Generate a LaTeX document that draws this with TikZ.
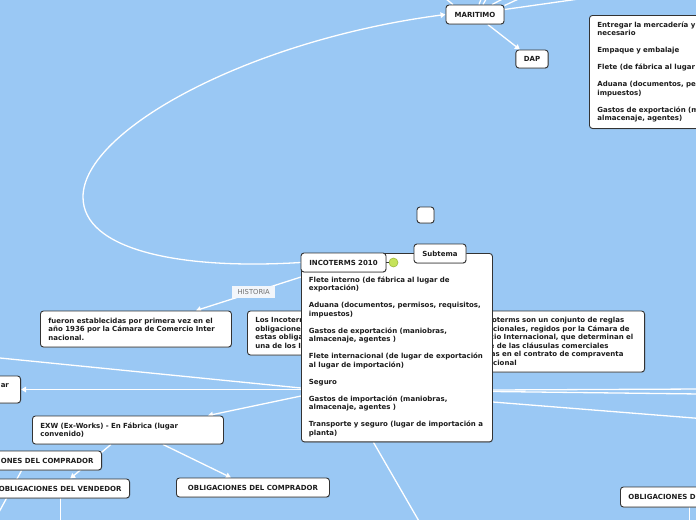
\documentclass[tikz,border=0pt]{standalone}
\usepackage{fontspec}
\newfontfamily\mapfont{DejaVu Sans}
\usetikzlibrary{arrows.meta,shadows,backgrounds}
\definecolor{Sky}{HTML}{9AC8F4}
\definecolor{Ink}{HTML}{1C1C1C}
\definecolor{Frame}{HTML}{333333}
\definecolor{TagFill}{HTML}{F2F6FB}
\definecolor{TagInk}{HTML}{707070}
\definecolor{Knob}{HTML}{C6E35A}
\definecolor{KnobLine}{HTML}{9CB83E}

\begin{document}
\begin{tikzpicture}[x=1pt,y=-1pt,
  box/.style={draw=Frame,fill=white,rounded corners=3pt,line width=0.9pt,text=Ink,
    font=\mapfont\bfseries\fontsize{7}{8.5}\selectfont,inner xsep=8pt,inner ysep=0pt,
    drop shadow={shadow xshift=0.5pt,shadow yshift=-0.8pt,opacity=0.35}},
  card/.style={box,text width=175pt,align=left},
  tag/.style={fill=TagFill,text=TagInk,font=\mapfont\fontsize{6.8}{8}\selectfont,
    minimum width=43pt,minimum height=12pt,inner sep=0pt},
  link/.style={draw=white,line width=1.3pt},
  flow/.style={link,-{Triangle[length=5pt,width=5.5pt]}}
]
\useasboundingbox (0,0) rectangle (696,520);
\begin{scope}[on background layer]
  \fill[Sky] (0,0) rectangle (696,520);
\end{scope}

% side boxes, partly under the main box
\node[card,minimum height=44pt,anchor=west] (rolesL) at (247,333)
  {Los Incoterms establecen las\\obligaciones del vendedor y comprador;\\estas obligaciones varían según cada\\una de los Incoterms.};
\node[card,text width=172pt,minimum height=61pt,anchor=east] (defin) at (645,341.5)
  {Los Incoterms son un conjunto de reglas\\internacionales, regidos por la Cámara de\\Comercio Internacional, que determinan el\\alcance de las cláusulas comerciales\\incluidas en el contrato de compraventa\\internacional};

% main node
\node[card,text width=176pt,inner xsep=7.5pt,inner ysep=5pt,anchor=north west] (main) at (301,253)
  {\rule{0pt}{24pt}Flete interno (de fábrica al lugar de\\exportación)\\[8.5pt]
   Aduana (documentos, permisos, requisitos,\\impuestos)\\[8.5pt]
   Gastos de exportación (maniobras,\\almacenaje, agentes )\\[8.5pt]
   Flete internacional (de lugar de exportación\\al lugar de importación)\\[8.5pt]
   Seguro\\[8.5pt]
   Gastos de importación (maniobras,\\almacenaje, agentes )\\[8.5pt]
   Transporte y seguro (lugar de importación a\\planta)};
\node[box,minimum width=85pt,minimum height=19pt] (inco) at (343.5,262.5) {INCOTERMS 2010};
\node[circle,fill=Knob,draw=KnobLine,line width=0.6pt,minimum size=9pt,inner sep=0pt] (knob) at (393.5,262.5) {};
\draw[Frame,line width=1pt] (inco.east) -- (knob.west);
\node[box,minimum width=52pt,minimum height=19pt] (sub) at (440,253.5) {Subtema};
\node[box,minimum width=17pt,minimum height=16pt,inner sep=0pt] (blank) at (425.5,215) {};

% upper branch
\node[box,minimum width=58pt,minimum height=19pt] (mar) at (475,14.5) {MARITIMO};
\node[box,minimum width=32pt,minimum height=18pt] (dap) at (532,59) {DAP};
\node[card,text width=185pt,minimum height=113pt,anchor=north west] (duties) at (589,15)
  {Entregar la mercadería y documentos\\necesario\\[8.5pt]
   Empaque y embalaje\\[8.5pt]
   Flete (de fábrica al lugar de exportación)\\[8.5pt]
   Aduana (documentos, permisos, requisitos,\\impuestos)\\[8.5pt]
   Gastos de exportación (maniobras,\\almacenaje, agentes)};

% left branch
\node[card,minimum height=36pt,anchor=west] (hist) at (40,329)
  {fueron establecidas por primera vez en el\\año 1936 por la Cámara de Comercio Inter\\nacional.};
\node[card,text width=134pt,minimum height=27pt,anchor=east] (lug) at (21,389.5)
  {FCA - Franco Transportista (lugar\\convenido)};
\node[card,minimum height=28pt,anchor=west] (exw) at (32,430)
  {EXW (Ex-Works) - En Fábrica (lugar\\convenido)};
\node[box,minimum height=19pt,anchor=east] (comp1) at (102,460.5) {OBLIGACIONES DEL COMPRADOR};
\node[box,minimum height=19pt,anchor=east] (vend) at (130,488.5) {OBLIGACIONES DEL VENDEDOR};
\node[box,minimum width=153pt,minimum height=19pt,anchor=west] (comp2) at (176,487.5) {OBLIGACIONES DEL COMPRADOR};
\node[box,minimum height=20pt,anchor=west] (oblR) at (620,497) {OBLIGACIONES DEL VENDEDOR};

% connectors
\begin{scope}[on background layer]
  \coordinate (offW) at (-10,357);
  \coordinate (offSW) at (-8,525);
  \coordinate (offS) at (0,530);
  \coordinate (offS2) at (427,535);
  \coordinate (offE1) at (700,389);
  \coordinate (offE2) at (700,394);
  \coordinate (offE3) at (700,418.5);
  \draw[flow] (inco.west) .. controls (180,270) and (83,250) .. (83,197)
    .. controls (83,130) and (250,40) .. (mar.west);
  \draw[flow] (mar) -- (dap);
  \draw[link] ([xshift=-22pt]mar.north) -- (440,-6);
  \draw[link] ([xshift=4pt]mar.north) -- (483,-6);
  \draw[link] ([xshift=8pt]mar.north) -- (489,-6);
  \draw[link] ([xshift=17pt]mar.north) -- (512,-6);
  \draw[link] ([yshift=-1pt]mar.north east) -- (527,-5);
  \draw[link] ([yshift=5pt]mar.east) -- (600,-4);
  \draw[flow] ([yshift=-24pt]main.north west) -- node[tag,pos=0.45]{HISTORIA} ([xshift=60pt]hist.north);
  \draw[link] (offW) -- ([yshift=-135pt]main.north west);
  \draw[flow] (main.west |- lug) -- (lug);
  \draw[flow] ([yshift=-143pt]main.north west) -- ([xshift=80pt]exw.north);
  \draw[flow] ([xshift=-17pt]exw.south) -- ([xshift=10pt]vend.north);
  \draw[flow] ([xshift=35pt]exw.south) -- ([xshift=-22pt]comp2.north);
  \draw[link] (offSW) -- ([xshift=-7pt]comp1.south);
  \draw[link] (vend.south) -- (vend.south |- offS);
  \draw[link] ([xshift=-23.5pt]main.south) -- (offS2);
  \draw[link] ([yshift=-137pt]main.north east) -- (offE1);
  \draw[link] ([yshift=-138.5pt]main.north east) -- (offE2);
  \draw[link] ([yshift=-149pt]main.north east) -- (offE3);
  \draw[link] (oblR.south) -- (oblR.south |- offS);
\end{scope}
\end{tikzpicture}
\end{document}
